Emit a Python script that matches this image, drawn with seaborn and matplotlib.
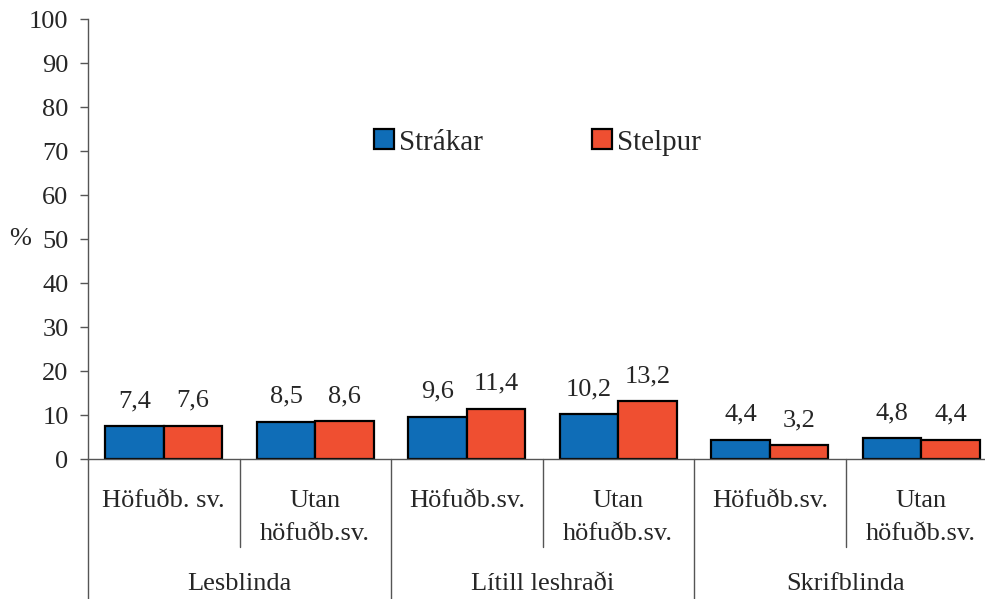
import numpy as np
import pandas as pd
import seaborn as sns
import matplotlib.pyplot as plt
from matplotlib.patches import Patch
from matplotlib.lines import Line2D

# data
groups = ["Lesblinda", "Lítill leshraði", "Skrifblinda"]
subgroups = ["Höfuðb. sv.", "Utan\nhöfuðb.sv.",
             "Höfuðb.sv.", "Utan\nhöfuðb.sv.",
             "Höfuðb.sv.", "Utan\nhöfuðb.sv."]
series = ["Strákar", "Stelpur"]
strakar = [7.4, 8.5, 9.6, 10.2, 4.4, 4.8]
stelpur = [7.6, 8.6, 11.4, 13.2, 3.2, 4.4]
colors = ["#0F6DB7", "#EF4F31"]

keys = [f"{groups[i // 2]}|{i}" for i in range(len(subgroups))]
df = pd.DataFrame({
    "key": keys * 2,
    "sex": [series[0]] * 6 + [series[1]] * 6,
    "value": strakar + stelpur,
})

sns.set_style("white")
plt.rcParams["font.family"] = ["Liberation Serif", "DejaVu Serif"]
FS = 19

fig = plt.figure(figsize=(9.85, 5.99), dpi=100)
ax = fig.add_axes([88 / 985, 140 / 599, 909 / 985, 440 / 599])

sns.barplot(data=df, x="key", y="value", hue="sex", order=keys,
            hue_order=series, palette=colors, width=0.77,
            edgecolor="black", linewidth=1.6, saturation=1,
            legend=False, ax=ax)

for c in ax.containers:
    ax.bar_label(c, labels=[f"{v:.1f}".replace(".", ",") for v in c.datavalues],
                 padding=10, fontsize=FS)

ax.set_ylim(0, 100)
ax.set_xlim(-0.5, 5.5)
ax.set_yticks(range(0, 101, 10))
ax.tick_params(axis="y", direction="out", length=6, width=1, color="#555555",
               labelsize=FS, pad=8, left=True)
ax.set_xticks(range(6))
ax.set_xticklabels(subgroups, fontsize=FS, linespacing=1.7)
ax.tick_params(axis="x", length=0, pad=22)
ax.set_xlabel("")
ax.set_ylabel("%", rotation=0, fontsize=FS, va="center")
ax.yaxis.set_label_coords(-0.075, 0.5)

for s in ["top", "right"]:
    ax.spines[s].set_visible(False)
for s in ["left", "bottom"]:
    ax.spines[s].set_color("#555555")
    ax.spines[s].set_linewidth(1)

# category separators below the axis
trans = ax.get_xaxis_transform()
for i in range(7):
    x = i - 0.5
    y_end = -0.318 if i % 2 == 0 else -0.2
    ax.add_line(Line2D([x, x], [0, y_end], transform=trans, color="#555555",
                       lw=1, clip_on=False))

for g, name in enumerate(groups):
    ax.text(2 * g + 0.5, -0.285, name, transform=trans, ha="center",
            va="center", fontsize=FS)

handles = [Patch(facecolor=c, edgecolor="black", linewidth=1.6) for c in colors]
fig.legend(handles, series, loc="center", bbox_to_anchor=(0.5457, 0.762),
           ncol=2, frameon=False, fontsize=21, handlelength=0.68,
           handleheight=0.68, handletextpad=0.17, columnspacing=3.73)

fig.savefig("out.png", dpi=100)
